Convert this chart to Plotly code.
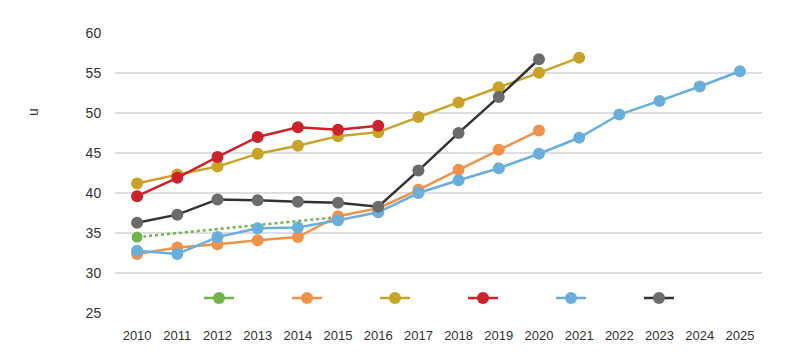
import plotly.graph_objects as go

years = list(range(2010, 2026))

green_years = [2010, 2015]
green_vals = [34.5, 37.0]

orange_years = list(range(2010, 2021))
orange_vals = [32.4, 33.2, 33.6, 34.1, 34.5, 37.1, 38.1, 40.4, 42.9, 45.4, 47.8]

gold_years = list(range(2010, 2022))
gold_vals = [41.2, 42.3, 43.3, 44.9, 45.9, 47.1, 47.6, 49.5, 51.3, 53.2, 55.0, 56.9]

red_years = list(range(2010, 2017))
red_vals = [39.6, 41.9, 44.5, 47.0, 48.2, 47.9, 48.4]

blue_years = list(range(2010, 2026))
blue_vals = [32.8, 32.4, 34.5, 35.6, 35.7, 36.6, 37.6, 40.0, 41.6, 43.1, 44.9, 46.9, 49.8, 51.5, 53.3, 55.2]

gray_years = list(range(2010, 2021))
gray_vals = [36.3, 37.3, 39.2, 39.1, 38.9, 38.8, 38.3, 42.8, 47.5, 52.0, 56.7]

y_ticks = [25, 30, 35, 40, 45, 50, 55, 60]

GREEN = "#72b34c"
ORANGE = "#f0924a"
GOLD = "#c9a22a"
RED = "#cc2229"
BLUE = "#6aaedc"
GRAY_M = "#6b6b6b"
GRAY_L = "#333333"

fig = go.Figure()

def add(xs, ys, line_color, marker_color, rank):
    fig.add_trace(go.Scatter(
        x=xs, y=ys, mode="lines+markers", name="",
        line=dict(color=line_color, width=2.5),
        marker=dict(color=marker_color, size=12),
        showlegend=True, legendrank=rank, hoverinfo="skip"))

# green dotted trend (marker only at start)
fig.add_trace(go.Scatter(
    x=green_years, y=green_vals, mode="lines+markers", name="",
    line=dict(color=GREEN, width=2.5, dash="dot"),
    marker=dict(color=GREEN, size=[12, 0], opacity=1),
    showlegend=False, hoverinfo="skip"))
# legend entry for green (solid)
fig.add_trace(go.Scatter(
    x=[None], y=[None], mode="lines+markers", name="",
    line=dict(color=GREEN, width=2.5),
    marker=dict(color=GREEN, size=12), legendrank=1))

add(orange_years, orange_vals, ORANGE, ORANGE, 2)
add(blue_years, blue_vals, BLUE, BLUE, 5)
add(gold_years, gold_vals, GOLD, GOLD, 3)
add(red_years, red_vals, RED, RED, 4)
add(gray_years, gray_vals, GRAY_L, GRAY_M, 6)

# the page body has an 8px margin, so figure coords = screen coords - 8
OFF = 8
L, T = 115 - OFF, 32 - OFF
R = 800 - (762 - OFF)
B = 355 - (314 - OFF)
pw = 800 - L - R
ph = 355 - T - B

fig.update_layout(
    width=800, height=355,
    margin=dict(l=L, r=R, t=T, b=B, autoexpand=False),
    paper_bgcolor="white", plot_bgcolor="white",
    font=dict(family="Liberation Sans, Arial, sans-serif", color="#333333"),
    showlegend=True,
    legend=dict(orientation="h", x=(463 - OFF - L) / pw, xanchor="center",
                y=(355 - B - (298 - OFF)) / ph, yanchor="middle",
                entrywidth=43, entrywidthmode="pixels", bgcolor="rgba(0,0,0,0)",
                font=dict(size=12), itemclick=False, itemdoubleclick=False),
    xaxis=dict(range=[2009.45, 2025.55], tickvals=years, ticktext=[str(y) for y in years],
               showgrid=False, zeroline=False, showline=False, automargin=False,
               ticks="outside", ticklen=9, tickcolor="rgba(0,0,0,0)",
               tickfont=dict(size=13, color="#333333")),
    yaxis=dict(range=[24.9, 60.1], tickvals=y_ticks, showgrid=True, gridcolor="#dedede",
               gridwidth=2, zeroline=False, showline=False, automargin=False,
               ticks="outside", ticklen=10, tickcolor="rgba(0,0,0,0)",
               tickfont=dict(size=14, color="#333333")),
    annotations=[dict(text="u", x=(33 - OFF - L) / pw, y=(355 - B - (112 - OFF)) / ph,
                      xref="paper", yref="paper", xanchor="center", yanchor="middle",
                      showarrow=False, textangle=-90, font=dict(size=14, color="#333333"))],
)

fig.write_html("out.html")
